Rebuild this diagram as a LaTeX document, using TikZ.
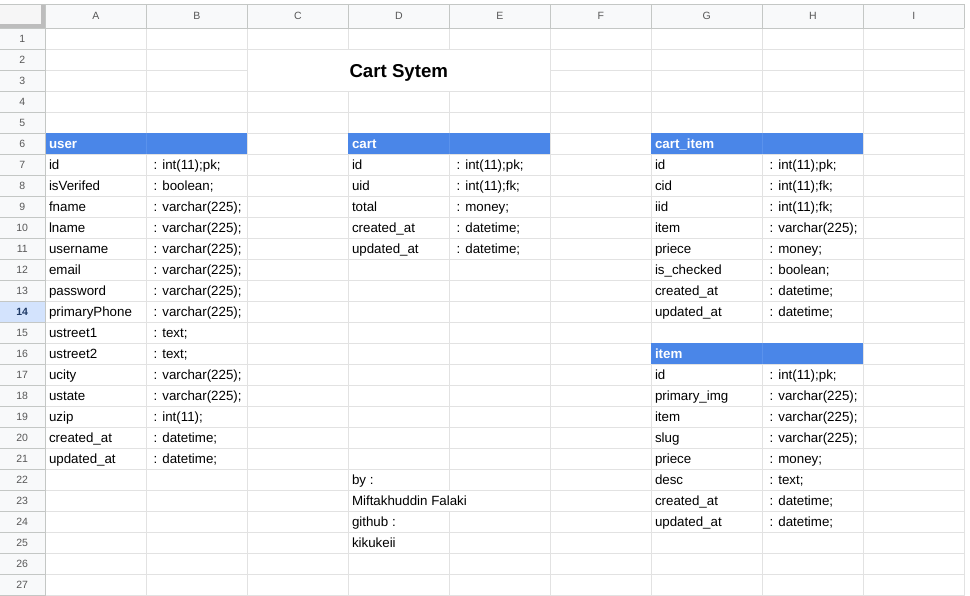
\documentclass[tikz,border=0pt]{standalone}
\usepackage{fontspec}
\setmainfont{Liberation Sans}
\definecolor{gridc}{HTML}{E2E2E2}
\definecolor{hdrline}{HTML}{C4C7C5}
\definecolor{hdrfill}{HTML}{F8F9FA}
\definecolor{hdrtext}{HTML}{575757}
\definecolor{tblue}{HTML}{4A86E8}
\definecolor{tbluesep}{HTML}{5A92EC}
\definecolor{selrow}{HTML}{D3E3FD}
\definecolor{selnum}{HTML}{1F3A66}
\definecolor{cornerbar}{HTML}{BDBDBD}

% row r starts at y = 28.3 + 21(r-1)
\newcommand{\rtop}[1]{{28.3+21*((#1)-1)}}

% one table body: prefix, field column x, type column x, first row, field/type list
\newcommand{\dbtable}[5]{%
  \foreach \f/\t [count=\i from 0] in {#5} {
    \node[cell] (#1f\i) at ({#2+3.7}, {28.3+21*(#4+\i-1)+15}) {\f};
    \node[cell] (#1t\i) at ({#3+7.4}, {28.3+21*(#4+\i-1)+15}) {\t};
  }}

\begin{document}
\begin{tikzpicture}[x=1pt,y=-1pt,
  every node/.style={inner sep=0pt,outer sep=0pt},
  cell/.style={anchor=base west,font=\fontsize{13.33}{16}\selectfont,text=black},
  hcell/.style={anchor=base west,font=\fontsize{13.33}{16}\selectfont\bfseries,text=white},
  colhead/.style={anchor=base,font=\fontsize{10.5}{12}\selectfont,text=hdrtext},
  rowhead/.style={anchor=base,font=\fontsize{10.5}{12}\selectfont,text=hdrtext},
  gridline/.style={draw=gridc,line width=1pt},
  hline/.style={draw=hdrline,line width=1pt}]

\fill[white] (0,0) rectangle (970,596);
\useasboundingbox (0,0) rectangle (970,596);

% header strips
\fill[hdrfill] (0,4.3) rectangle (964.3,28.3);
\fill[hdrfill] (0,28.3) rectangle (45.3,596);
\fill[selrow] (0,\rtop{14}) rectangle (45.3,\rtop{15});

% horizontal grid lines of the sheet
\foreach \r in {1,2,4,5,...,28}
  \draw[gridline] (45.3,\rtop{\r}) -- (964.3,\rtop{\r});
\draw[gridline] (45.3,\rtop{3}) -- (247.3,\rtop{3});
\draw[gridline] (550.3,\rtop{3}) -- (964.3,\rtop{3});

% vertical grid lines (C2:E3 merged, D23 overflows into E23)
\foreach \x in {146.3,247.3,550.3,651.3,762.3,863.3,964.3}
  \draw[gridline] (\x,28.3) -- (\x,596);
\draw[gridline] (348.3,28.3) -- (348.3,\rtop{2});
\draw[gridline] (348.3,\rtop{4}) -- (348.3,596);
\draw[gridline] (449.3,28.3) -- (449.3,\rtop{2});
\draw[gridline] (449.3,\rtop{4}) -- (449.3,\rtop{23});
\draw[gridline] (449.3,\rtop{24}) -- (449.3,596);

% blue table headings
\fill[tblue] (45.3,\rtop{6}) rectangle (247.3,\rtop{7});
\fill[tblue] (348.3,\rtop{6}) rectangle (550.3,\rtop{7});
\fill[tblue] (651.3,\rtop{6}) rectangle (863.3,\rtop{7});
\fill[tblue] (651.3,\rtop{16}) rectangle (863.3,\rtop{17});
\foreach \x/\r in {146.3/6,449.3/6,762.3/6,762.3/16}
  \draw[tbluesep,line width=0.8pt] (\x,\rtop{\r}) -- (\x,\rtop{\r+1});

% header borders
\draw[hline] (0,4.3) -- (964.3,4.3);
\draw[hline] (0,28.3) -- (964.3,28.3);
\draw[hline] (45.3,4.3) -- (45.3,596);
\foreach \x in {146.3,247.3,348.3,449.3,550.3,651.3,762.3,863.3,964.3}
  \draw[hline] (\x,4.3) -- (\x,28.3);
\foreach \r in {2,...,28}
  \draw[hline] (0,\rtop{\r}) -- (45.3,\rtop{\r});

% corner cell with frozen-pane bars
\fill[hdrfill!80!gray!30] (0,4.8) rectangle (42.7,25.8);
\fill[cornerbar] (40.7,4.8) rectangle (44.8,28.3);
\fill[cornerbar] (0,23.6) rectangle (44.8,28.3);

% column letters
\foreach \c/\x [count=\k] in {A/95.8,B/196.8,C/297.8,D/398.8,E/499.8,F/600.8,G/706.8,H/812.8,I/913.8}
  \node[colhead] (col\k) at (\x,19.8) {\c};

% row numbers
\foreach \r in {1,...,13,15,16,...,27}
  \node[rowhead] (row\r) at (22.2,{28.3+21*(\r-1)+14}) {\r};
\node[rowhead,font=\fontsize{10.5}{12}\selectfont\bfseries,text=selnum] (row14) at (22.2,{28.3+21*13+14}) {14};

% title
\node[anchor=base,font=\fontsize{18.67}{22}\selectfont\bfseries] (title) at (398.8,77.3) {Cart Sytem};

% table headings
\node[hcell] (huser) at (49,{28.3+21*5+15}) {user};
\node[hcell] (hcart) at (352,{28.3+21*5+15}) {cart};
\node[hcell] (hcartitem) at (655,{28.3+21*5+15}) {cart\_item};
\node[hcell] (hitem) at (655,{28.3+21*15+15}) {item};

% table bodies
\dbtable{user}{45.3}{146.3}{7}{id/: int(11);pk;, isVerifed/: boolean;, fname/: varchar(225);, lname/: varchar(225);, username/: varchar(225);, email/: varchar(225);, password/: varchar(225);, primaryPhone/: varchar(225);, ustreet1/: text;, ustreet2/: text;, ucity/: varchar(225);, ustate/: varchar(225);, uzip/: int(11);, created\_at/: datetime;, updated\_at/: datetime;}
\dbtable{cart}{348.3}{449.3}{7}{id/: int(11);pk;, uid/: int(11);fk;, total/: money;, created\_at/: datetime;, updated\_at/: datetime;}
\dbtable{ci}{651.3}{762.3}{7}{id/: int(11);pk;, cid/: int(11);fk;, iid/: int(11);fk;, item/: varchar(225);, priece/: money;, is\_checked/: boolean;, created\_at/: datetime;, updated\_at/: datetime;}
\dbtable{it}{651.3}{762.3}{17}{id/: int(11);pk;, primary\_img/: varchar(225);, item/: varchar(225);, slug/: varchar(225);, priece/: money;, desc/: text;, created\_at/: datetime;, updated\_at/: datetime;}

% author note
\node[cell] (by) at (352,{28.3+21*21+15}) {by :};
\node[cell] (author) at (352,{28.3+21*22+15}) {Miftakhuddin Falaki};
\node[cell] (gh) at (352,{28.3+21*23+15}) {github :};
\node[cell] (ghname) at (352,{28.3+21*24+15}) {kikukeii};
\end{tikzpicture}
\end{document}
